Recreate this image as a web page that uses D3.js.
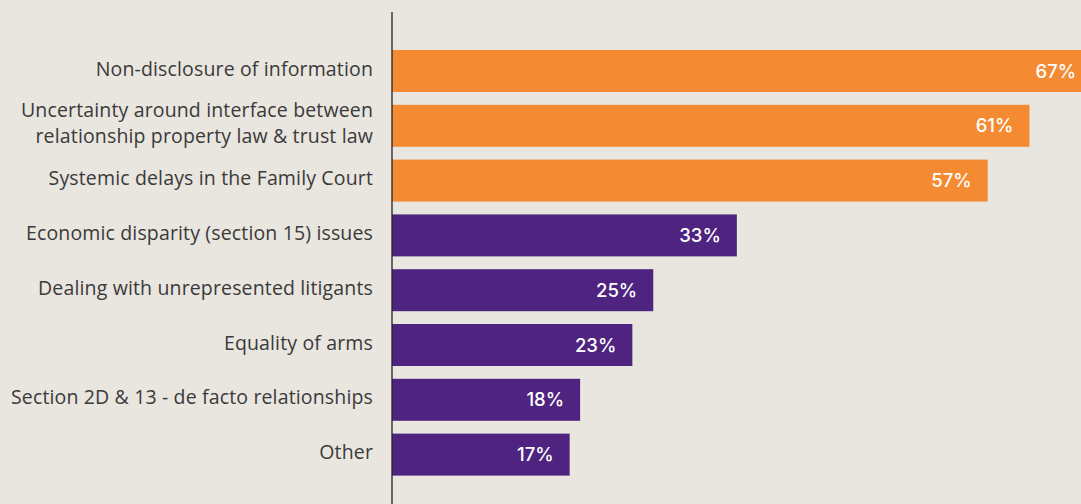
<!DOCTYPE html>
<html>
<head>
<meta charset="utf-8">
<script src="https://cdn.jsdelivr.net/npm/d3@7"></script>
<style>
  html, body { margin: 0; padding: 0; background: #e9e5df; }
  svg { display: block; }
</style>
</head>
<body>
<svg id="chart" width="1081" height="504"></svg>
<script>
// Issues raised, share of respondents (%)
const categories = [
  ["Non-disclosure of information"],
  ["Uncertainty around interface between", "relationship property law & trust law"],
  ["Systemic delays in the Family Court"],
  ["Economic disparity (section 15) issues"],
  ["Dealing with unrepresented litigants"],
  ["Equality of arms"],
  ["Section 2D & 13 - de facto relationships"],
  ["Other"]
];
const values = [67, 61, 57, 33, 25, 23, 18, 17];
const highlighted = [true, true, true, false, false, false, false, false];

const width = 1081, height = 504;
const svg = d3.select("#chart");

const x = d3.scaleLinear().domain([0, 100]).range([392, 392 + 1045]);
const y = d3.scaleBand()
  .domain(d3.range(values.length))
  .range([43.6, 43.6 + 8 * 54.8])
  .paddingInner(0.234)
  .paddingOuter(0.117);

const rows = svg.append("g").selectAll("g")
  .data(values.map((v, i) => ({ v, i, label: categories[i], hi: highlighted[i] })))
  .join("g");

rows.append("rect")
  .attr("x", x(0))
  .attr("y", d => y(d.i))
  .attr("width", d => x(d.v) - x(0))
  .attr("height", y.bandwidth())
  .attr("fill", d => d.hi ? "#f48a32" : "#4e2480");

rows.append("text")
  .attr("x", d => x(d.v) - 16)
  .attr("y", d => y(d.i) + y.bandwidth() / 2)
  .attr("dy", "0.36em")
  .attr("text-anchor", "end")
  .attr("fill", "#ffffff")
  .attr("font-family", "Inter, Roboto, sans-serif")
  .attr("font-weight", 500)
  .attr("font-size", 18.5)
  .text(d => d.v + "%");

const labels = rows.append("text")
  .attr("text-anchor", "end")
  .attr("fill", "#3a3a3a")
  .attr("font-family", "'Open Sans', 'Noto Sans', sans-serif")
  .attr("font-size", 19.5)
  .attr("letter-spacing", 0.15)
  .attr("transform", d => `translate(373, ${y(d.i) + y.bandwidth() / 2 - 2.5})`);

labels.selectAll("tspan")
  .data(d => d.label.map((t, k) => ({ t, k, n: d.label.length })))
  .join("tspan")
  .attr("x", 0)
  .attr("y", d => (d.k - (d.n - 1) / 2) * 26)
  .attr("dy", "0.36em")
  .text(d => d.t);

// vertical baseline
svg.append("line")
  .attr("x1", x(0)).attr("x2", x(0))
  .attr("y1", 12).attr("y2", height)
  .attr("stroke", "#222")
  .attr("stroke-width", 1.3);
</script>
</body>
</html>
